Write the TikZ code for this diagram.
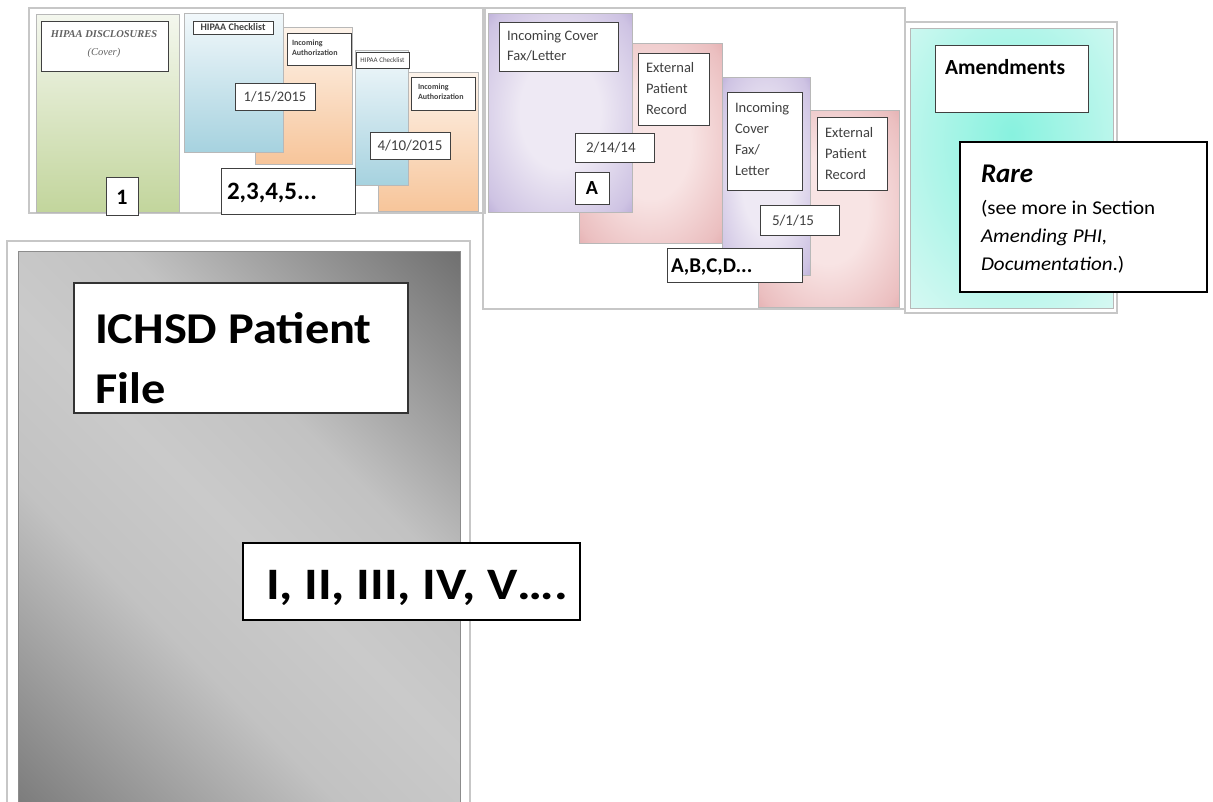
\documentclass[tikz,border=0pt]{standalone}
\usepackage{fontspec}
\setmainfont{Carlito}
\newfontfamily\cambria{Liberation Serif}
\newcommand\fsz[1]{\fontsize{#1}{#1}\selectfont}
\definecolor{gtop}{HTML}{F4F7EE}
\definecolor{gbot}{HTML}{C2D59C}
\definecolor{btop}{HTML}{F2F8FB}
\definecolor{bbot}{HTML}{A6D2DF}
\definecolor{otop}{HTML}{FDF3EA}
\definecolor{obot}{HTML}{F7C59A}
\definecolor{pin}{HTML}{EEE9F4}
\definecolor{pmid}{HTML}{CEC3E3}
\definecolor{pout}{HTML}{9280BE}
\definecolor{kin}{HTML}{F8E4E4}
\definecolor{kmid}{HTML}{EBBFC0}
\definecolor{kout}{HTML}{D28488}
\definecolor{ain}{HTML}{88F2DF}
\definecolor{aout}{HTML}{E4FAF6}
\definecolor{amid}{HTML}{B0F5E9}
\definecolor{gdark}{HTML}{676767}
\definecolor{gbl2}{HTML}{727272}
\definecolor{gmid}{HTML}{C2C2C2}
\definecolor{glight}{HTML}{CACACA}
\definecolor{gbl}{HTML}{626262}
\definecolor{tx}{HTML}{404040}
\pgfdeclareradialshading{purp}{\pgfpoint{0bp}{0bp}}{color(0bp)=(pin); color(14bp)=(pin); color(32bp)=(pmid); color(46bp)=(pout); color(72bp)=(pout)}
\pgfdeclareradialshading{pinkish}{\pgfpoint{0bp}{0bp}}{color(0bp)=(kin); color(14bp)=(kin); color(32bp)=(kmid); color(48bp)=(kout); color(72bp)=(kout)}
\pgfdeclareradialshading{aquish}{\pgfpoint{0bp}{6bp}}{color(0bp)=(ain); color(20bp)=(amid); color(44bp)=(aout); color(72bp)=(aout)}
\pgfdeclareverticalshading{grayd}{100bp}{color(0bp)=(gbl2); color(12bp)=(gbl2); color(38bp)=(gmid); color(50bp)=(glight); color(62bp)=(gmid); color(88bp)=(gdark); color(100bp)=(gdark)}
\begin{document}
\begin{tikzpicture}[x=1pt,y=-1pt,
  frm/.style={draw=black!22, line width=1.2pt},
  card/.style={draw=black!28, line width=0.6pt},
  lbox/.style={draw=black!75, fill=white, line width=1pt, inner sep=0pt, outer sep=0pt, anchor=north west},
  txt/.style={inner sep=0pt, outer sep=0pt, anchor=base west, text=tx},
  ctxt/.style={inner sep=0pt, outer sep=0pt, anchor=center, text=tx},
  big/.style={inner sep=0pt, outer sep=0pt, text=black, font=\bfseries}]
\useasboundingbox (0,0) rectangle (1213,801);
\clip (0,0) rectangle (1213,801);
\fill[white] (0,0) rectangle (1213,801);

% ---------- top-left panel ----------
\draw[frm] (29,8) rectangle (485,213);
\shade[card, top color=gtop, bottom color=gbot] (36,14) rectangle (179,212);
\node[lbox, minimum width=127pt, minimum height=50pt] (hdb) at (41,21) {};
\node[ctxt, text=gbl, font=\cambria\bfseries\itshape\fsz{10.5}] (hd1) at (104,34) {HIPAA DISCLOSURES};
\node[ctxt, text=gbl, font=\cambria\itshape\fsz{10.5}] (hd2) at (104,53) {(Cover)};
\node[lbox, minimum width=32pt, minimum height=38pt] (oneb) at (106,177) {};
\node[big, font=\bfseries\fsz{22}] (one) at (122,197) {1};

\shade[card, top color=otop, bottom color=obot] (255,27) rectangle (352,164);
\node[lbox, minimum width=64pt, minimum height=32pt, line width=0.8pt] (ia1b) at (287,33) {};
\node[txt, font=\bfseries\fsz{8}] (ia1a) at (292,45) {Incoming};
\node[txt, font=\bfseries\fsz{8}] (ia1c) at (292,55) {Authorization};
\shade[card, top color=btop, bottom color=bbot] (184,13) rectangle (283,152);
\node[lbox, minimum width=80pt, minimum height=13pt, line width=0.8pt] (hc1b) at (193,21) {};
\node[ctxt, font=\bfseries\fsz{10}] (hc1) at (233,27.5) {HIPAA Checklist};
\node[lbox, minimum width=80pt, minimum height=27pt] (d1b) at (235,83) {};
\node[ctxt, font=\fsz{14.5}] (d1) at (275,97) {1/15/2015};

\shade[card, top color=otop, bottom color=obot] (378,72) rectangle (478,211);
\node[lbox, minimum width=64pt, minimum height=33pt, line width=0.8pt] (ia2b) at (411,77) {};
\node[txt, font=\bfseries\fsz{8}] (ia2a) at (418,89) {Incoming};
\node[txt, font=\bfseries\fsz{8}] (ia2c) at (418,99) {Authorization};
\shade[card, top color=btop, bottom color=bbot] (355,50) rectangle (408,185);
\node[lbox, minimum width=53pt, minimum height=16pt, line width=0.8pt] (hc2b) at (356,52) {};
\node[ctxt, font=\fsz{7}] (hc2) at (382.5,60) {HIPAA Checklist};
\node[lbox, minimum width=80pt, minimum height=27pt] (d2b) at (370,132) {};
\node[ctxt, font=\fsz{15}] (d2) at (410,146) {4/10/2015};
\node[lbox, minimum width=134pt, minimum height=46pt] (nb) at (221,168) {};
\node[big, anchor=base west, font=\bfseries\fsz{25}] (n) at (227,199) {2,3,4,5...};

% ---------- middle panel ----------
\draw[frm] (483,8) rectangle (905,309);
\shade[card, shading=pinkish] (579,43) rectangle (722,243);
\node[lbox, minimum width=71pt, minimum height=72pt] (ep1b) at (638,53) {};
\node[txt, font=\fsz{14.5}] (ep1a) at (646,72) {External};
\node[txt, font=\fsz{14.5}] (ep1c) at (646,93) {Patient};
\node[txt, font=\fsz{14.5}] (ep1d) at (646,114) {Record};
\shade[card, shading=purp] (488,13) rectangle (632,212);
\node[lbox, minimum width=119pt, minimum height=49pt] (ic1b) at (499,22) {};
\node[txt, font=\fsz{14.5}] (ic1a) at (507,40) {Incoming Cover};
\node[txt, font=\fsz{14.5}] (ic1c) at (507,60) {Fax/Letter};
\node[lbox, minimum width=79pt, minimum height=29pt] (d3b) at (575,133) {};
\node[txt, font=\fsz{15}] (d3) at (586,152) {2/14/14};
\node[lbox, minimum width=34pt, minimum height=32pt] (ab) at (575,172) {};
\node[big, font=\bfseries\fsz{20}] (a) at (592,188.5) {A};

\shade[card, shading=pinkish] (758,110) rectangle (899,307);
\node[lbox, minimum width=70pt, minimum height=73pt] (ep2b) at (817,117) {};
\node[txt, font=\fsz{14.5}] (ep2a) at (825,137) {External};
\node[txt, font=\fsz{14.5}] (ep2c) at (825,158) {Patient};
\node[txt, font=\fsz{14.5}] (ep2d) at (825,179) {Record};
\shade[card, shading=purp] (722,77) rectangle (810,275);
\node[lbox, minimum width=75pt, minimum height=98pt] (ic2b) at (727,92) {};
\node[txt, font=\fsz{14.5}] (ic2a) at (735,112) {Incoming};
\node[txt, font=\fsz{14.5}] (ic2c) at (735,133) {Cover};
\node[txt, font=\fsz{14.5}] (ic2d) at (735,154) {Fax/};
\node[txt, font=\fsz{14.5}] (ic2e) at (735,175) {Letter};
\node[lbox, minimum width=79pt, minimum height=30pt] (d4b) at (760,205) {};
\node[txt, font=\fsz{15}] (d4) at (772,225) {5/1/15};
\node[lbox, minimum width=135pt, minimum height=34pt] (lb) at (667,248) {};
\node[big, anchor=base west, font=\bfseries\fsz{21}] (l) at (671,272) {A,B,C,D...};

% ---------- right panel ----------
\draw[frm] (905,22) rectangle (1117,313);
\shade[card, shading=aquish] (910,28) rectangle (1113,308);
\node[lbox, minimum width=153pt, minimum height=67pt] (amb) at (935,45) {};
\node[big, anchor=base west, font=\bfseries\fsz{21.5}] (am) at (945,74) {Amendments};
\node[lbox, minimum width=247pt, minimum height=150pt, line width=1.2pt, draw=black] (rb) at (960,142) {};
\node[big, anchor=base west, font=\bfseries\itshape\fsz{27}] (r1) at (981,182) {Rare};
\node[txt, text=black, font=\fsz{19.5}] (r2) at (981,214) {\scalebox{1.08}[1]{(see more in Section}};
\node[txt, text=black, font=\itshape\fsz{19.5}] (r3) at (981,242) {\scalebox{1.08}[1]{Amending PHI,}};
\node[txt, text=black, font=\fsz{19.5}] (r4) at (981,270) {\scalebox{1.08}[1]{\textit{Documentation}.)}};

% ---------- bottom-left panel ----------
\draw[frm] (7,241) rectangle (470,820);
\shade[draw=black!45, line width=0.6pt, shading=grayd, shading angle=-45] (18,251) rectangle (460,815);
\node[lbox, minimum width=334pt, minimum height=130pt, line width=1.4pt, draw=black!80] (ib) at (74,283) {};
\node[big, anchor=base west, font=\bfseries\fsz{44}] (i1) at (95,343) {\scalebox{1.1}[1]{ICHSD Patient}};
\node[big, anchor=base west, font=\bfseries\fsz{44}] (i2) at (95,403) {\scalebox{1.1}[1]{File}};
\node[lbox, minimum width=337pt, minimum height=77pt, line width=1.4pt, draw=black] (rnb) at (243,543) {};
\node[big, anchor=base west, font=\bfseries\fsz{45}] (rn) at (266,599) {\scalebox{1.14}[1]{I, II, III, IV, V….}};
\end{tikzpicture}
\end{document}
